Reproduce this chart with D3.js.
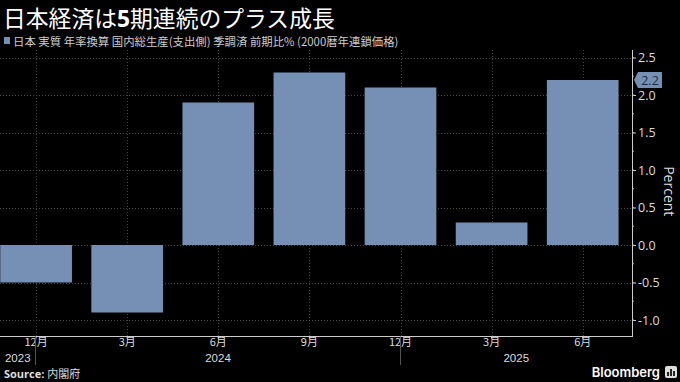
<!DOCTYPE html>
<html><head><meta charset="utf-8">
<script src="https://cdn.jsdelivr.net/npm/d3@7"></script>
<style>
html,body{margin:0;padding:0;background:#000;}
svg{display:block;}
</style></head>
<body>
<script>
const categories = ["2023-12","2024-03","2024-06","2024-09","2024-12","2025-03","2025-06"];
const monthLabels = ["12月","3月","6月","9月","12月","3月","6月"];
const values = [-0.5, -0.9, 1.9, 2.3, 2.1, 0.3, 2.2];
const years = ["2023","2024","2025"];
const yearDividers = ["2023-12","2024-12"];
const yTicks = [-1.0, -0.5, 0.0, 0.5, 1.0, 1.5, 2.0, 2.5];
const yMinorTicks = [-1.0,-0.75,-0.5,-0.25,0,0.25,0.5,0.75,1.0,1.25,1.5,1.75,2.0,2.25,2.5];
const titleParts = [{t:"日本経済は",b:false},{t:"5",b:true},{t:"期連続のプラス成長",b:false}];
const legendText = "日本 実質 年率換算 国内総生産(支出側) 季調済 前期比% (2000暦年連鎖価格)";
const lastValueLabel = "2.2";

(function(){
const W = 680, H = 382;
const barColor = "#7690b5";
const cjk = "'Noto Sans CJK JP','Noto Sans',sans-serif";
const latin = "'Open Sans','Noto Sans','Noto Sans CJK JP',sans-serif";

const svg = d3.select("body").append("svg").attr("width", W).attr("height", H)
  .style("background", "#000");

const axisX = 632, plotTop = 50, plotBottom = 336.5;
const x = d3.scaleBand().domain(categories).range([-9.45, 628.25])
  .paddingInner(0.213).paddingOuter(0.1065);
const y = d3.scaleLinear().domain([-1.22, 2.6]).range([plotBottom, plotTop]);

// title
const title = svg.append("text").attr("x", 3).attr("y", 27)
  .attr("fill", "#fff").style("font-family", cjk).style("font-size", "22.8px");
titleParts.forEach(p => title.append("tspan").text(p.t)
  .style("font-weight", p.b ? "bold" : "normal")
  .style("font-family", p.b ? "'Open Sans',sans-serif" : cjk));

// legend
svg.append("rect").attr("x", 4).attr("y", 37).attr("width", 6).attr("height", 7).attr("fill", barColor);
svg.append("text").attr("x", 13).attr("y", 45.5).attr("fill", "#ccc")
  .style("font-family", cjk).style("font-size", "11.4px").text(legendText);

// gridlines
const grid = svg.append("g");
yTicks.forEach(v => grid.append("line").attr("x1", 0).attr("x2", axisX)
  .attr("y1", Math.round(y(v)) + 0.5).attr("y2", Math.round(y(v)) + 0.5)
  .attr("stroke", "#444").attr("stroke-dasharray", "1,2"));
categories.forEach(c => {
  const cx = Math.round(x(c) + x.bandwidth() / 2) + 0.5;
  grid.append("line").attr("x1", cx).attr("x2", cx).attr("y1", plotTop).attr("y2", plotBottom)
    .attr("stroke", "#444").attr("stroke-dasharray", "1,2");
});

// bars
svg.append("g").selectAll("rect").data(values).join("rect")
  .attr("x", (d, i) => x(categories[i]))
  .attr("width", x.bandwidth())
  .attr("y", d => y(Math.max(0, d)))
  .attr("height", d => Math.abs(y(d) - y(0)))
  .attr("fill", barColor);

// y axis
const yAxis = d3.axisRight(y).tickValues(yTicks).tickSize(4).tickPadding(2)
  .tickFormat(d => d3.format(".1f")(d).replace("−", "-"));
const ya = svg.append("g").attr("transform", `translate(${axisX},0)`).call(yAxis);
ya.select(".domain").remove();
ya.selectAll(".tick line").attr("stroke", "#ccc");
ya.selectAll(".tick text").attr("fill", "#ddd").style("font-family", latin).style("font-size", "12.5px");
ya.append("g").selectAll("line").data(yMinorTicks).join("line")
  .attr("x1", 0).attr("x2", 2).attr("y1", d => y(d)).attr("y2", d => y(d)).attr("stroke", "#aaa");
svg.append("line").attr("x1", axisX + 0.5).attr("x2", axisX + 0.5).attr("y1", plotTop).attr("y2", plotBottom)
  .attr("stroke", "#ccc");

// x axis line
svg.append("line").attr("x1", 0).attr("x2", axisX + 1).attr("y1", plotBottom).attr("y2", plotBottom)
  .attr("stroke", "#ccc");

// month labels
const xa = svg.append("g").attr("transform", `translate(0,${plotBottom})`)
  .call(d3.axisBottom(x).tickSize(2).tickPadding(0).tickFormat((d, i) => monthLabels[i]));
xa.select(".domain").remove();
xa.selectAll(".tick line").attr("stroke", "#ccc");
xa.selectAll(".tick text").attr("fill", "#ddd").style("font-family", cjk).style("font-size", "11px");

// year dividers and labels
const divX = yearDividers.map(c => Math.round(x(c) + x.bandwidth() / 2) - 0.5);
divX.forEach(dx => svg.append("line").attr("x1", dx).attr("x2", dx).attr("y1", plotBottom).attr("y2", 365)
  .attr("stroke", "#555"));
const bounds = [0, ...divX, axisX];
years.forEach((yr, i) => {
  svg.append("text").attr("x", (bounds[i] + bounds[i + 1]) / 2).attr("y", 361.5)
    .attr("text-anchor", "middle").attr("fill", "#ddd")
    .style("font-family", "'Liberation Sans','DejaVu Sans',sans-serif").style("font-size", "11.5px").text(yr);
});

// Percent label
svg.append("text").attr("transform", `translate(664,${(plotTop + plotBottom) / 2 - 2}) rotate(90)`)
  .attr("text-anchor", "middle").attr("fill", "#ddd")
  .style("font-family", latin).style("font-size", "14px").text("Percent");

// last value label
const ly = y(values[values.length - 1]);
svg.append("path").attr("d", `M634,${ly} L638,${ly - 8} L662,${ly - 8} L662,${ly + 8} L638,${ly + 8} Z`)
  .attr("fill", barColor);
svg.append("text").attr("x", 650).attr("y", ly + 4.5).attr("text-anchor", "middle")
  .attr("fill", "#1d2a40").style("font-family", latin).style("font-size", "12.5px").text(lastValueLabel);

// source
const src = svg.append("text").attr("x", 4).attr("y", 377.5).attr("fill", "#ddd")
  .style("font-size", "11px");
src.append("tspan").text("Source: ").style("font-weight", "bold").style("font-family", latin);
src.append("tspan").text("内閣府").style("font-family", cjk);

// Bloomberg
svg.append("text").attr("x", 660).attr("y", 377).attr("text-anchor", "end").attr("fill", "#fff")
  .style("font-family", "'Inter','Open Sans',sans-serif").style("font-size", "13px").style("font-weight", "600")
  .text("Bloomberg");
const ic = svg.append("g").attr("transform", "translate(665,366)");
ic.append("rect").attr("width", 12).attr("height", 12).attr("rx", 2).attr("fill", "#ddd");
[[2,6,2],[5,3,2],[8,5,2]].forEach(([bx, by, bw]) => ic.append("rect")
  .attr("x", bx).attr("y", by).attr("width", bw).attr("height", 10 - by).attr("fill", "#222"));
})();
</script>
</body></html>
